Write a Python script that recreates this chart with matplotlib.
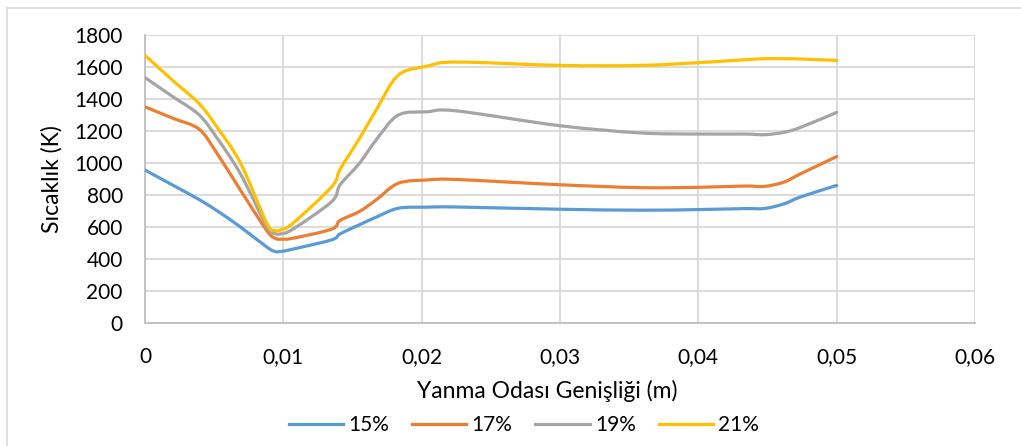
import numpy as np
import matplotlib
matplotlib.use("Agg")
import matplotlib.pyplot as plt
from matplotlib.path import Path
from matplotlib.patches import PathPatch
from matplotlib.lines import Line2D
from matplotlib.ticker import FuncFormatter, MultipleLocator

plt.rcParams['font.family'] = ['Lato', 'DejaVu Sans']

x = [0, 0.0020, 0.0039, 0.0052, 0.0069, 0.0088, 0.0094, 0.0098, 0.0107, 0.0135, 0.0141,
     0.0155, 0.0167, 0.0183, 0.0204, 0.0225, 0.030, 0.0358, 0.040, 0.0433, 0.0448,
     0.0462, 0.0474, 0.050]
s15 = [956, 862, 772, 702, 600, 475, 447, 447, 462, 520, 557,
       614, 661, 717, 724, 725, 711, 705, 709, 715, 716,
       745, 788, 860]
s17 = [1351, 1280, 1212, 1061, 830, 578, 530, 524, 530, 587, 641,
       697, 769, 873, 894, 897, 864, 846, 848, 856, 854,
       881, 933, 1040]
s19 = [1534, 1415, 1302, 1157, 932, 603, 560, 557, 587, 759, 863,
       998, 1143, 1299, 1320, 1326, 1233, 1188, 1181, 1181, 1177,
       1192, 1223, 1316]
s21 = [1673, 1516, 1372, 1225, 1000, 624, 578, 582, 624, 852, 960,
       1153, 1330, 1548, 1605, 1631, 1610, 1610, 1627, 1645, 1652,
       1652, 1650, 1641]
labels = ['15%', '17%', '19%', '21%']
colors = ['#5B9BD5', '#ED7D31', '#A5A5A5', '#FFC000']

W, H = 1021, 446
fig = plt.figure(figsize=(W/100, H/100), dpi=100)
ax = fig.add_axes([145/W, 1-323/H, (975-145)/W, (323-35)/H])
ax.set_xlim(0, 0.06)
ax.set_ylim(0, 1800)

def smooth_path(ax, xs, ys):
    # Excel-like smoothed line, computed in display space
    pts = ax.transData.transform(np.column_stack([xs, ys]))
    n = len(pts)
    verts = [pts[0]]
    codes = [Path.MOVETO]
    for i in range(n-1):
        p0 = pts[i-1] if i > 0 else pts[i]
        p1 = pts[i]
        p2 = pts[i+1]
        p3 = pts[i+2] if i+2 < n else pts[i+1]
        c1 = p1 + (p2 - p0) / 6.0
        c2 = p2 - (p3 - p1) / 6.0
        verts += [c1, c2, p2]
        codes += [Path.CURVE4]*3
    verts = ax.transData.inverted().transform(np.array(verts))
    return Path(verts, codes)

for ys, c in zip([s15, s17, s19, s21], colors):
    p = smooth_path(ax, x, ys)
    ax.add_patch(PathPatch(p, fill=False, edgecolor=c, lw=2.3, capstyle='round',
                           joinstyle='round', zorder=3))

ax.xaxis.set_major_locator(MultipleLocator(0.01))
ax.yaxis.set_major_locator(MultipleLocator(200))
ax.xaxis.set_major_formatter(FuncFormatter(lambda v, p: ('%g' % round(v, 4)).replace('.', ',')))
ax.yaxis.set_major_formatter(FuncFormatter(lambda v, p: '%d' % v))
ax.grid(True, color='#D9D9D9', lw=1.3, zorder=0)
ax.set_axisbelow(True)
for s in ['top', 'right']:
    ax.spines[s].set_visible(False)
for s in ['left', 'bottom']:
    ax.spines[s].set_color('#BFBFBF')
    ax.spines[s].set_linewidth(1.3)
ax.tick_params(length=0, labelsize=15, colors='#000000')
ax.tick_params(axis='y', pad=16)
ax.tick_params(axis='x', pad=17)
ax.set_xlabel('Yanma Odası Genişliği (m)', fontsize=16.5, va='baseline')
ax.xaxis.set_label_coords((547-145)/830, (323-398)/288)
ax.set_ylabel('Sıcaklık (K)', fontsize=16.5, va='center')
ax.yaxis.set_label_coords((52-145)/830, 0.5)

handles = [Line2D([0], [0], color=c, lw=2.3) for c in colors]
fig.legend(handles, labels, loc='center', bbox_to_anchor=(524/W, 1-425/H), ncol=4,
           frameon=False, fontsize=15, handlelength=2.6, columnspacing=1.1,
           handletextpad=0.25)

# chart-area border (left and top visible in the reference)
fig.add_artist(Line2D([7/W, 7/W], [0, 1-8/H], transform=fig.transFigure,
                      color='#D9D9D9', lw=1.2))
fig.add_artist(Line2D([7/W, 1], [1-8/H, 1-8/H], transform=fig.transFigure,
                      color='#D9D9D9', lw=1.2))

fig.savefig('out.png', dpi=100)
